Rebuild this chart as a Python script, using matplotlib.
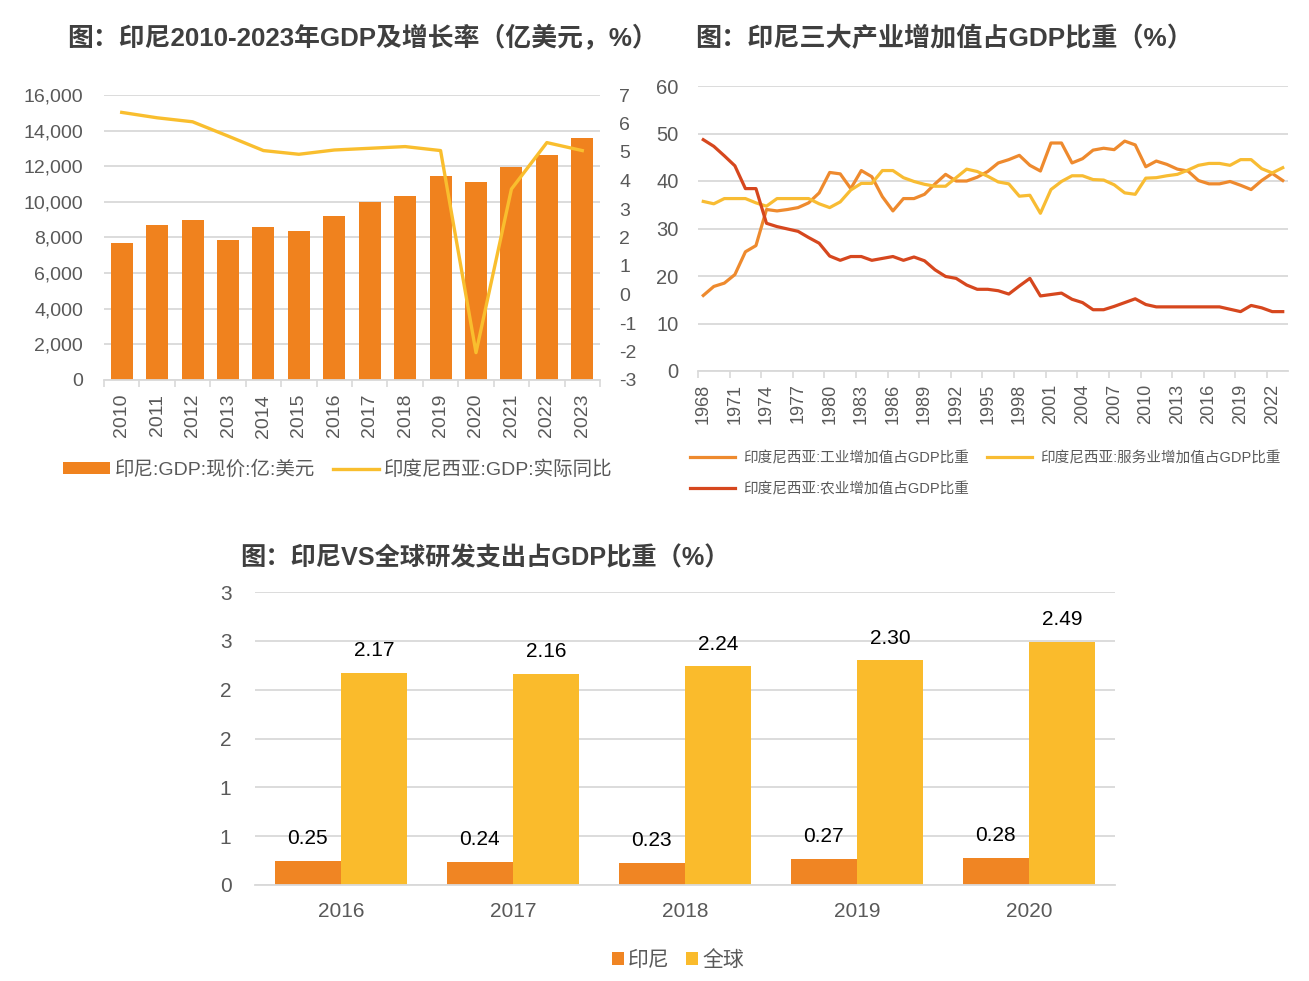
import numpy as np
import matplotlib
matplotlib.use("Agg")
import matplotlib.pyplot as plt
from matplotlib.ticker import StrMethodFormatter

plt.rcParams['font.family'] = ['Liberation Sans', 'Noto Sans CJK SC']
plt.rcParams['axes.unicode_minus'] = False

# 图1 印尼GDP及增长率
gdp_years = ['2010', '2011', '2012', '2013', '2014', '2015', '2016',
             '2017', '2018', '2019', '2020', '2021', '2022', '2023']
gdp_value = [7678, 8708, 8989, 7865, 8596, 8371, 9213,
             10000, 10318, 11461, 11142, 11948, 12659, 13596]
gdp_growth = [6.39, 6.20, 6.06, 5.56, 5.05, 4.92, 5.07,
              5.13, 5.19, 5.05, -2.04, 3.70, 5.33, 5.05]

# 图2 三大产业占比 1968-2023
ind_years = list(range(1968, 2024))
industry = [15.9, 17.8, 18.5, 20.3, 25.1, 26.4, 34.0, 33.7, 34.0, 34.4,
            35.4, 37.5, 41.8, 41.5, 38.4, 42.2, 40.9, 36.7, 33.7, 36.3,
            36.3, 37.2, 39.4, 41.4, 40.0, 40.0, 40.8, 42.0, 43.8, 44.5,
            45.4, 43.3, 42.1, 48.0, 48.0, 43.8, 44.7, 46.5, 46.9, 46.6,
            48.4, 47.6, 43.0, 44.2, 43.5, 42.5, 42.1, 40.1, 39.4, 39.4,
            39.9, 39.1, 38.2, 40.1, 41.6, 40.1]
services = [35.7, 35.2, 36.3, 36.3, 36.3, 35.4, 34.7, 36.3, 36.3, 36.3,
            36.3, 35.2, 34.4, 35.6, 38.1, 39.5, 39.5, 42.2, 42.2, 40.7,
            39.9, 39.3, 38.9, 38.9, 40.7, 42.5, 42.0, 41.0, 39.8, 39.4,
            36.8, 37.0, 33.2, 38.2, 39.9, 41.1, 41.1, 40.3, 40.2, 39.2,
            37.5, 37.2, 40.6, 40.7, 41.1, 41.4, 42.3, 43.3, 43.7, 43.7,
            43.3, 44.5, 44.5, 42.6, 41.7, 42.8]
agriculture = [48.7, 47.3, 45.3, 43.2, 38.4, 38.4, 31.1, 30.4, 29.9, 29.4,
               28.1, 26.9, 24.2, 23.3, 24.1, 24.1, 23.3, 23.7, 24.1, 23.3,
               24.0, 23.2, 21.3, 19.9, 19.5, 18.1, 17.2, 17.2, 16.9, 16.2,
               17.9, 19.5, 15.8, 16.1, 16.4, 15.1, 14.4, 12.9, 12.9, 13.6,
               14.4, 15.2, 14.0, 13.5, 13.5, 13.5, 13.5, 13.5, 13.5, 13.5,
               13.0, 12.5, 13.8, 13.3, 12.5, 12.5]

# 图3 研发支出占GDP比重
rd_years = ['2016', '2017', '2018', '2019', '2020']
rd_indonesia = [0.25, 0.24, 0.23, 0.27, 0.28]
rd_world = [2.17, 2.16, 2.24, 2.30, 2.49]
rd_ytick_labels = ['0', '1', '1', '2', '2', '3', '3']

W, H = 1309, 981
gray = '#595959'
grid_c = '#D9D9D9'
title_c = '#3F3F3F'


def box(l, t, r, b):
    return [l / W, 1 - b / H, (r - l) / W, (b - t) / H]


def clean(ax):
    for s in ['top', 'left', 'right']:
        ax.spines[s].set_visible(False)
    ax.spines['bottom'].set_color(grid_c)
    ax.spines['bottom'].set_linewidth(1.3)
    ax.grid(axis='y', color=grid_c, lw=1.3)
    ax.set_axisbelow(True)


fig = plt.figure(figsize=(W / 100, H / 100), dpi=100)

# ---- 图1
ax1 = fig.add_axes(box(104, 95, 600, 380))
x = np.arange(len(gdp_years))
bars = ax1.bar(x, gdp_value, width=0.62, color='#F0821E', label='印尼:GDP:现价:亿:美元')
clean(ax1)
ax1.set_xlim(-0.5, len(x) - 0.5)
ax1.set_ylim(0, 16000)
ax1.set_yticks(np.arange(0, 16001, 2000))
ax1.yaxis.set_major_formatter(StrMethodFormatter('{x:,.0f}'))
ax1.set_xticks(x)
ax1.set_xticklabels(gdp_years, rotation=90)
ax1.set_xticks(np.arange(-0.5, len(x), 1), minor=True)
ax1.tick_params(axis='x', which='major', length=0, pad=10, labelsize=14, labelcolor=gray)
ax1.tick_params(axis='x', which='minor', length=5, color=grid_c, width=1.2)
ax1.tick_params(axis='y', length=0, pad=15, labelsize=14, labelcolor=gray)

ax1b = ax1.twinx()
line, = ax1b.plot(x, gdp_growth, color='#F9BE2E', lw=2.4, label='印度尼西亚:GDP:实际同比')
ax1b.set_ylim(-3, 7)
ax1b.set_yticks(np.arange(-3, 8, 1))
for s in ax1b.spines.values():
    s.set_visible(False)
ax1b.tick_params(axis='y', length=0, pad=14, labelsize=14, labelcolor=gray)

fig.legend(handles=[bars, line], loc='center', bbox_to_anchor=(338 / W, 1 - 470 / H),
           ncol=2, frameon=False, fontsize=14, handlelength=2.4, handleheight=0.55,
           handletextpad=0.25, columnspacing=0.9, labelcolor=gray)

fig.text(362 / W, 1 - 38 / H, '图：印尼2010-2023年GDP及增长率（亿美元，%）',
         ha='center', va='center', fontsize=18.6, fontweight='bold', color=title_c)

# ---- 图2
ax2 = fig.add_axes(box(698, 86, 1288, 371))
xi = np.arange(len(ind_years))
l_ind, = ax2.plot(xi, industry, color='#EE8A2E', lw=2.3, label='印度尼西亚:工业增加值占GDP比重')
l_srv, = ax2.plot(xi, services, color='#F8BC33', lw=2.3, label='印度尼西亚:服务业增加值占GDP比重')
l_agr, = ax2.plot(xi, agriculture, color='#D6471E', lw=2.3, label='印度尼西亚:农业增加值占GDP比重')
clean(ax2)
ax2.set_xlim(-0.5, len(xi) - 0.5)
ax2.set_ylim(0, 60)
ax2.set_yticks(np.arange(0, 61, 10))
ax2.set_xticks(xi[::3])
ax2.set_xticklabels([str(y) for y in ind_years[::3]], rotation=90)
ax2.set_xticks(np.arange(-0.5, len(xi), 3), minor=True)
ax2.tick_params(axis='x', which='major', length=0, pad=9, labelsize=13, labelcolor=gray)
ax2.tick_params(axis='x', which='minor', length=5, color=grid_c, width=1.2)
ax2.tick_params(axis='y', length=0, pad=14, labelsize=14.5, labelcolor=gray)

fig.legend(handles=[l_ind, l_agr, l_srv], loc='upper left', bbox_to_anchor=(677 / W, 1 - 438 / H),
           ncol=2, frameon=False, fontsize=10.5, handlelength=3.1, handletextpad=0.55,
           columnspacing=1.2, labelspacing=1.15, labelcolor=gray)

fig.text(944 / W, 1 - 38 / H, '图：印尼三大产业增加值占GDP比重（%）',
         ha='center', va='center', fontsize=18.8, fontweight='bold', color=title_c)

# ---- 图3
ax3 = fig.add_axes(box(255, 592, 1115, 885))
xr = np.arange(len(rd_years))
bw = 0.385
b1 = ax3.bar(xr - bw / 2, rd_indonesia, width=bw, color='#F08523', label='印尼')
b2 = ax3.bar(xr + bw / 2, rd_world, width=bw, color='#FABB2C', label='全球')
clean(ax3)
ax3.set_xlim(-0.5, len(xr) - 0.5)
ax3.set_ylim(0, 3)
ax3.set_yticks(np.arange(0, 3.01, 0.5))
ax3.set_yticklabels(rd_ytick_labels)
ax3.set_xticks(xr)
ax3.set_xticklabels(rd_years)
ax3.tick_params(axis='x', length=0, pad=12, labelsize=15, labelcolor=gray)
ax3.tick_params(axis='y', length=0, pad=17, labelsize=15, labelcolor=gray)
for bs, vals in [(b1, rd_indonesia), (b2, rd_world)]:
    for rect, v in zip(bs, vals):
        ax3.annotate(f'{v:.2f}', (rect.get_x() + rect.get_width() / 2, rect.get_height()),
                     xytext=(0, 16), textcoords='offset points', ha='center', va='center',
                     fontsize=15, color='black')

fig.legend(handles=[b1, b2], loc='center', bbox_to_anchor=(678 / W, 1 - 960 / H),
           ncol=2, frameon=False, fontsize=15, handlelength=0.55, handleheight=0.55,
           handletextpad=0.2, columnspacing=0.8, labelcolor=gray)

fig.text(485 / W, 1 - 558 / H, '图：印尼VS全球研发支出占GDP比重（%）',
         ha='center', va='center', fontsize=18.2, fontweight='bold', color=title_c)

fig.savefig('out.png', dpi=100)
